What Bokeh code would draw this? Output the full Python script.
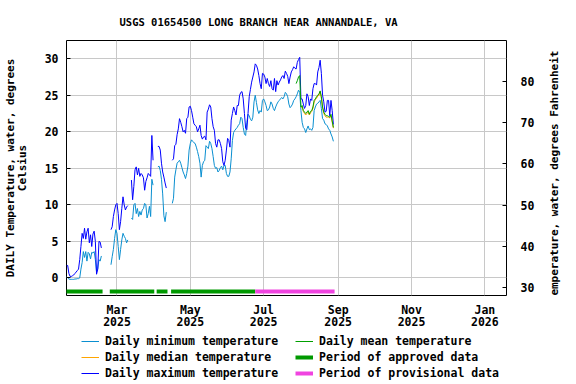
import math
import numpy as np
import pandas as pd
from bokeh.plotting import figure
from bokeh.layouts import gridplot
from bokeh.models import (Range1d, LinearAxis, FixedTicker, Legend, LegendItem,
                          ColumnDataSource, Label)
from bokeh.embed import file_html
from bokeh.resources import INLINE

TITLE = "USGS 01654500 LONG BRANCH NEAR ANNANDALE, VA"
LEFT_LABEL = "DAILY Temperature, water, degrees\nCelsius"
RIGHT_LABEL = "Temperature, water, degrees Fahrenheit"

series_start = "2025-01-18"
daily_max = [
    1.7, 1.7, 0.6, 0.2, 0.2, 0.3, 0.4, 0.6, 0.8, 1.0,
    1.2, 2.5, 4.3, 6.1, 5.4, 6.8, 5.3, 6.3, 6.8, 4.8,
    5.9, 4.3, 6.0, 6.4, 5.0, 0.5, 1.2, 5.0, 4.9, 4.1,
    None, None, None, None, None, None, None, 6.6, 7.0, 8.4,
    9.3, 10.0, 10.2, 8.8, 6.6, 7.7, 9.5, 11.1, 10.0, 9.3,
    9.7, 9.9, None, None, 13.4, 10.7, 12.5, 14.8, 15.2, 14.1,
    15.0, 13.9, 14.3, 14.1, 13.7, 12.0, 13.2, 13.7, 14.3, 14.1,
    13.9, 19.5, 16.1, None, None, None, 18.0, 18.0, 17.5, 15.7,
    14.5, 13.8, 13.0, 12.3, None, None, None, None, 16.1, 16.3,
    18.1, 18.3, 19.6, 20.4, 21.8, 21.3, 20.7, 20.0, 20.2, 19.8,
    21.8, 22.0, 23.4, 23.5, 22.9, 22.0, 21.1, 20.9, 20.7, 20.0,
    20.4, 20.9, 19.5, 19.0, 19.3, 19.4, 18.9, 22.7, 23.1, 23.7,
    23.4, 21.8, 20.7, 20.2, 18.4, 17.9, 18.9, 18.9, 18.4, 17.7,
    15.9, 15.4, 16.1, 17.5, 19.1, 18.8, 17.9, 21.6, 22.5, 23.4,
    22.9, 22.3, 23.6, 23.6, 25.0, 25.4, 25.5, 24.5, 22.5, 20.5,
    20.3, 22.5, 24.8, 25.8, 26.8, 27.5, 28.2, 29.3, 29.1, 28.6,
    27.7, 26.6, 25.9, 28.0, 27.9, 27.5, 26.6, 27.3, 26.6, 26.2,
    27.0, 25.9, 25.7, 27.3, 25.5, 27.0, 26.4, 26.8, 27.1, 27.5,
    27.7, 27.3, 28.3, 28.0, 27.6, 26.6, 27.5, 28.2, 28.5, 28.9,
    28.7, 28.6, 29.5, 29.9, 30.2, 24.5, 24.5, 23.8, 23.2, 23.6,
    25.2, 24.8, 23.6, 24.5, 24.3, 25.9, 26.6, 26.6, 26.4, 28.2,
    28.8, 29.8, 28.0, 25.0, 24.1, 22.7, 22.8, 24.3, 24.3, 22.2,
    24.3, 22.9, 21.0,
]
daily_min = [
    0.2, 0.0, -0.15, -0.2, -0.2, -0.2, -0.2, -0.15, -0.15, -0.1,
    -0.1, 0.0, 1.2, 2.1, 3.6, 2.8, 3.6, 2.3, 3.5, 3.3,
    2.6, 3.5, 3.4, 3.6, 2.5, 0.8, 1.3, 2.5, 2.3, 3.0,
    None, None, None, None, None, None, None, 1.8, 2.9, 3.9,
    5.4, 6.6, 6.1, 4.3, 2.5, 3.9, 5.2, 6.1, 5.7, 5.4,
    4.8, 5.2, None, None, 8.2, 8.0, 10.0, 10.2, 8.8, 9.5,
    8.4, 9.1, 8.6, 9.3, 9.5, 10.2, 10.0, 8.2, 8.8, 9.8,
    8.4, 13.5, 12.7, None, None, None, 15.2, 15.3, 14.7, 13.5,
    11.5, 8.5, 7.7, 9.0, None, None, None, None, 10.2, 10.9,
    13.8, 14.8, 15.7, 15.9, 16.1, 15.7, 15.1, 14.5, 14.1, 13.6,
    14.3, 15.3, 17.5, 18.4, 18.9, 18.7, 18.5, 18.4, 17.9, 17.3,
    16.6, 15.7, 13.8, 15.4, 15.9, 16.1, 18.1, 17.9, 17.7, 18.7,
    18.4, 17.7, 16.6, 15.4, 15.0, 15.1, 14.5, 14.7, 15.1, 15.3,
    14.8, 15.4, 15.4, 14.3, 13.9, 13.9, 14.5, 16.3, 18.8, 19.9,
    20.2, 20.4, 20.6, 20.9, 21.1, 22.0, 21.8, 20.6, 19.7, 19.5,
    21.3, 22.4, 22.2, 21.7, 21.5, 22.0, 24.1, 25.0, 24.0, 23.0,
    22.5, 22.9, 22.7, 24.3, 24.5, 24.1, 23.6, 22.9, 23.0, 23.4,
    24.1, 23.8, 23.2, 22.9, 23.4, 23.8, 24.1, 24.3, 24.5, 24.7,
    24.5, 24.8, 25.4, 25.2, 24.8, 23.8, 23.3, 23.5, 23.8, 24.3,
    24.5, 24.8, 25.2, 25.7, 25.4, 22.9, 21.3, 20.6, 20.4, 19.9,
    20.4, 20.8, 20.3, 20.4, 20.2, 20.6, 22.9, 23.4, 23.8, 23.9,
    24.1, 24.3, 23.2, 21.8, 21.6, 21.1, 21.0, 20.8, 20.4, 20.2,
    19.7, 19.3, 18.7,
]
mean_start = "2025-07-28"
daily_mean = [
    26.6, 27.0, 27.5, 27.7, 23.4, 23.6, 22.9, 22.7, 22.5, 22.7,
    22.9, 22.4, 22.8, 22.9, 23.4, 24.3, 24.5, 24.8, 25.0, 25.2,
    25.6, 24.8, 23.4, 22.7, 22.4, 22.2, 22.2, 22.1, 22.0, 22.4,
    21.5, 20.6,
]
median_start = "2025-08-01"
daily_median = [
    23.3, 23.4, 22.8, 22.5, 22.3, 22.5, 22.7, 22.3, 22.6, 22.8,
    23.2, 24.1, 24.4, 24.6, 24.9, 25.0, 25.5, 24.6, 23.3, 22.5,
    22.2, 22.0, 22.0, 22.0, 21.9, 22.2, 21.3, 20.5,
]
approved_start = ["2025-01-17", "2025-02-23", "2025-04-03", "2025-04-15"]
approved_end = ["2025-02-17", "2025-04-01", "2025-04-12", "2025-06-24"]
provisional_start = ["2025-06-24"]
provisional_end = ["2025-08-29"]

x_ticks = ["2025-03-01", "2025-05-01", "2025-07-01", "2025-09-01", "2025-11-01", "2026-01-01"]
x_tick_labels = ["Mar\n2025", "May\n2025", "Jul\n2025", "Sep\n2025", "Nov\n2025", "Jan\n2026"]
c_ticks = [0, 5, 10, 15, 20, 25, 30]
f_ticks = [30, 40, 50, 60, 70, 80]

legend_labels = ["Daily minimum temperature", "Daily median temperature",
                 "Daily maximum temperature", "Daily mean temperature",
                 "Period of approved data", "Period of provisional data"]

FONT = "DejaVu Sans Mono"
C_MIN = "#0a8fd0"
C_MAX = "#0000ff"
C_MEAN = "#00a000"
C_MEDIAN = "#ffa500"
C_APPROVED = "#009900"
C_PROV = "#f044e0"


def arr(v):
    return np.array(v, dtype=float)


dates = pd.date_range(series_start, periods=len(daily_max), freq="D")
src = ColumnDataSource(dict(date=dates, tmax=arr(daily_max), tmin=arr(daily_min)))
src_mean = ColumnDataSource(dict(date=pd.date_range(mean_start, periods=len(daily_mean), freq="D"),
                                 v=arr(daily_mean)))
src_med = ColumnDataSource(dict(date=pd.date_range(median_start, periods=len(daily_median), freq="D"),
                                v=arr(daily_median)))
bar_y = -1.85
src_app = ColumnDataSource(dict(x0=pd.to_datetime(approved_start), x1=pd.to_datetime(approved_end),
                                y=[bar_y] * len(approved_start)))
src_prov = ColumnDataSource(dict(x0=pd.to_datetime(provisional_start), x1=pd.to_datetime(provisional_end),
                                 y=[bar_y] * len(provisional_start)))

p = figure(width=548, height=332, x_axis_type="datetime", output_backend="svg",
           toolbar_location=None,
           x_range=Range1d(pd.Timestamp("2025-01-18"), pd.Timestamp("2026-01-19")),
           y_range=Range1d(-2.41, 32.5),
           min_border_left=64, min_border_right=42, min_border_top=40, min_border_bottom=36)
p.background_fill_color = "white"
p.border_fill_color = "white"
p.outline_line_color = "black"
p.outline_line_width = 1
p.outline_line_alpha = 1

p.title.text = TITLE
p.title.align = "left"
p.title.offset = 53
p.title.text_font = FONT
p.title.text_font_style = "bold"
p.title.text_font_size = "10.5px"
p.title.text_color = "black"
p.title.standoff = 26

# x axis
tick_ms = [pd.Timestamp(t).value / 1e6 for t in x_ticks]
xa = p.xaxis[0]
xa.ticker = FixedTicker(ticks=tick_ms)
xa.major_label_overrides = {t: lab for t, lab in zip(tick_ms, x_tick_labels)}
xa.major_tick_in = 0
xa.major_tick_out = 0
xa.minor_tick_in = 0
xa.minor_tick_out = 0
xa.axis_line_color = None
xa.major_label_standoff = 7
xa.major_label_text_font = FONT
xa.major_label_text_font_style = "bold"
xa.major_label_text_font_size = "11.5px"
xa.major_label_text_line_height = 0.9
xa.major_label_text_color = "black"

# left axis
ya = p.yaxis[0]
ya.ticker = FixedTicker(ticks=c_ticks)
ya.major_tick_in = 4
ya.major_tick_out = 0
ya.minor_tick_in = 0
ya.minor_tick_out = 0
ya.major_tick_line_color = "black"
ya.axis_line_color = None
ya.major_label_standoff = 8
ya.major_label_text_font = FONT
ya.major_label_text_font_style = "bold"
ya.major_label_text_font_size = "11.5px"
ya.major_label_text_color = "black"
ya.axis_label = LEFT_LABEL
ya.axis_label_text_font = FONT
ya.axis_label_text_font_style = "bold"
ya.axis_label_text_font_size = "11px"
ya.axis_label_text_color = "black"
ya.axis_label_text_line_height = 0.9
ya.axis_label_standoff = 13

# right axis (Fahrenheit); its title is drawn in the narrow strip to the right
p.extra_y_ranges = {"F": Range1d(28.14, 89.9)}
ra = LinearAxis(y_range_name="F", ticker=FixedTicker(ticks=f_ticks))
ra.major_tick_in = 4
ra.major_tick_out = 0
ra.minor_tick_in = 0
ra.minor_tick_out = 0
ra.major_tick_line_color = "black"
ra.axis_line_color = None
ra.major_label_standoff = 14
ra.major_label_text_font = FONT
ra.major_label_text_font_style = "bold"
ra.major_label_text_font_size = "11.5px"
ra.major_label_text_color = "black"
p.add_layout(ra, "right")

p.xgrid.ticker = FixedTicker(ticks=tick_ms)
p.ygrid.ticker = FixedTicker(ticks=c_ticks)
for g in (p.xgrid[0], p.ygrid[0]):
    g.grid_line_color = "#c8c8c8"
    g.grid_line_width = 1

p.line("date", "tmin", source=src, line_color=C_MIN, line_width=1)
p.line("date", "tmax", source=src, line_color=C_MAX, line_width=1)
p.line("date", "v", source=src_med, line_color=C_MEDIAN, line_width=1)
p.line("date", "v", source=src_mean, line_color=C_MEAN, line_width=1)
p.segment("x0", "y", "x1", "y", source=src_app, line_color=C_APPROVED, line_width=4)
p.segment("x0", "y", "x1", "y", source=src_prov, line_color=C_PROV, line_width=4)

# narrow strip on the right holding the Fahrenheit axis title (reads bottom-to-top)
rp = figure(width=28, height=332, output_backend="svg", toolbar_location=None,
            x_range=Range1d(0, 1), y_range=Range1d(0, 1),
            x_axis_location=None, y_axis_location=None,
            min_border=0, min_border_left=0, min_border_right=0,
            min_border_top=0, min_border_bottom=0)
rp.outline_line_color = None
rp.grid.visible = False
rp.background_fill_color = "white"
rp.border_fill_color = "white"
rp.add_layout(Label(x=0.2, y=0.467, text=RIGHT_LABEL, angle=math.pi / 2,
                    text_align="center", text_baseline="middle",
                    text_font=FONT, text_font_style="bold", text_font_size="11px",
                    text_color="black"))

# legend strip below the chart (its frame is aligned with the chart frame)
lp = figure(width=548, height=52, output_backend="svg", toolbar_location=None,
            x_range=Range1d(0, 1), y_range=Range1d(0, 1),
            x_axis_location=None, y_axis_location=None,
            min_border=0, min_border_left=0, min_border_right=0,
            min_border_top=0, min_border_bottom=0)
lp.outline_line_color = None
lp.grid.visible = False
lp.background_fill_color = "white"
lp.border_fill_color = "white"
key_styles = [(C_MIN, 1), (C_MEDIAN, 1), (C_MAX, 1), (C_MEAN, 1), (C_APPROVED, 4), (C_PROV, 4)]
key_renderers = [lp.line(x=[np.nan], y=[np.nan], line_color=c, line_width=w)
                 for c, w in key_styles]

legend = Legend(items=[LegendItem(label=lab, renderers=[r])
                       for lab, r in zip(legend_labels, key_renderers)],
                location=(15, 4), orientation="vertical", nrows=3)
legend.padding = 0
legend.margin = 0
legend.spacing = 2
legend.glyph_width = 18
legend.glyph_height = 14
legend.label_height = 14
legend.label_width = 188
legend.label_standoff = 6
legend.border_line_color = None
legend.background_fill_alpha = 0
legend.label_text_font = FONT
legend.label_text_font_style = "bold"
legend.label_text_font_size = "11.5px"
legend.label_text_color = "black"
lp.add_layout(legend)

layout = gridplot([[p, rp], [lp, None]], toolbar_location=None)
open("out.html", "w").write(file_html(layout, INLINE))
